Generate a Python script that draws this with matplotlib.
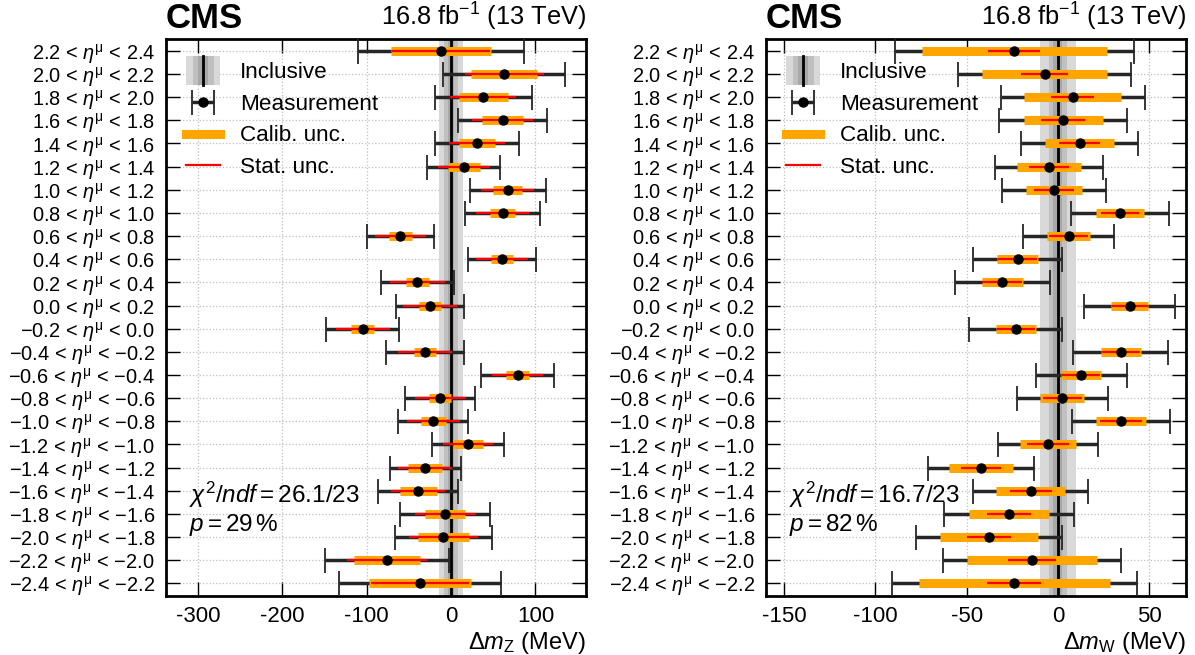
import numpy as np
import matplotlib
matplotlib.use('Agg')
import matplotlib.pyplot as plt
from matplotlib.patches import Rectangle
from matplotlib.lines import Line2D
from matplotlib.legend_handler import HandlerBase

plt.rcParams['font.family'] = ['Liberation Sans', 'DejaVu Sans']
plt.rcParams['mathtext.fontset'] = 'custom'
plt.rcParams['mathtext.rm'] = 'Liberation Sans'
plt.rcParams['mathtext.it'] = 'Liberation Sans:italic'
plt.rcParams['mathtext.bf'] = 'Liberation Sans:bold'
plt.rcParams['axes.unicode_minus'] = False

# eta bin edges, bottom row first
eta_lo = [-2.4, -2.2, -2.0, -1.8, -1.6, -1.4, -1.2, -1.0, -0.8, -0.6, -0.4, -0.2,
          0.0, 0.2, 0.4, 0.6, 0.8, 1.0, 1.2, 1.4, 1.6, 1.8, 2.0, 2.2]
eta_hi = [-2.2, -2.0, -1.8, -1.6, -1.4, -1.2, -1.0, -0.8, -0.6, -0.4, -0.2, 0.0,
          0.2, 0.4, 0.6, 0.8, 1.0, 1.2, 1.4, 1.6, 1.8, 2.0, 2.2, 2.4]

# Z panel (MeV)
z_val = [-37, -76, -9, -7, -39, -30.5, 20, -21, -13, 79, -31, -105,
         -25, -40, 60, -60, 61, 67, 15, 31, 61, 38, 63, -12]
z_tot = [96, 73, 58, 53.5, 47.5, 42, 42.5, 41.5, 41.5, 43, 46, 43,
         40.5, 43.5, 40.5, 39.5, 44, 45, 43, 50, 52.5, 57.5, 72, 98]
z_cal = [60.5, 39, 30, 24, 22, 20, 18, 15, 13, 13.5, 13.5, 14,
         13, 13.5, 13, 13.5, 15, 17, 19, 21.5, 24, 29, 39, 59.5]
z_stat = [58, 47.5, 41, 36, 32, 32, 30, 31, 30, 30, 32.5, 32,
          32, 33, 31, 30, 31, 31, 31, 33, 36.5, 39.5, 47, 58]
z_bands = [14, 8, 4]

# W panel (MeV)
w_val = [-23.8, -14.1, -37.8, -26.8, -14.8, -42.1, -5.4, 34.7, 2.5, 12.8, 34.5, -23,
         39.5, -30.5, -22.1, 5.9, 34.1, -2.2, -5, 12, 3, 8.1, -7.3, -23.9]
w_tot = [67, 49, 40, 35.5, 31.5, 29, 27.5, 27, 25, 25, 26, 25.5,
         25, 26, 24.5, 25, 27, 28.5, 29.5, 32, 35, 39.5, 47.5, 65.5]
w_cal = [52.5, 35.5, 27, 22, 19, 17.5, 15.5, 13.5, 12, 11, 11, 11,
         10.2, 11.2, 11, 11.7, 13.2, 15.3, 17.5, 19, 21.5, 26.8, 34, 50.7]
w_stat = [14.8, 13, 12.2, 12, 11.4, 11, 11.4, 11.4, 10.5, 10.5, 10.5, 10.5,
          10, 10.8, 10.5, 10.5, 10.5, 11, 11, 11.2, 12, 12, 13, 14.2]
w_bands = [10, 5, 2.5]

band_colors = ['#d9d9d9', '#c0c0c0', '#a8a8a8']


class HandlerBand(HandlerBase):
    def create_artists(self, legend, orig_handle, xdescent, ydescent,
                       width, height, fontsize, trans):
        cx = width / 2 - xdescent
        y0 = -ydescent - 0.4 * height
        h = height * 1.8
        arts = []
        for frac, c in zip([1.0, 0.62, 0.3], band_colors):
            arts.append(Rectangle((cx - frac * width / 2, y0), frac * width, h,
                                  facecolor=c, edgecolor='none', transform=trans))
        arts.append(Line2D([cx, cx], [y0, y0 + h], color='k', lw=2, transform=trans))
        return arts


def fmt_eta(v):
    s = '%.1f' % v
    return s.replace('-', '\u2212')


def panel(ax, val, tot, cal, stat, bands, xlim, xticks, xlabel, chi2, pval):
    y = np.arange(len(val))
    val = np.array(val)
    ax.set_xlim(*xlim)
    ax.set_ylim(-0.55, 23.5)
    ax.grid(True, ls=':', color='0.75', lw=0.9)
    ax.set_axisbelow(True)
    for b, c in zip(bands, band_colors):
        ax.axvspan(-b, b, color=c, lw=0, zorder=1)
    ax.axvline(0, color='k', lw=2, zorder=2)
    eb = ax.errorbar(val, y, xerr=tot, fmt='o', color='k', ms=6.5,
                     ecolor='0.15', elinewidth=2.5, capsize=9, capthick=1.3,
                     zorder=3, label='Measurement')
    eb[0].set_zorder(6)
    for cl in eb[1]:
        cl.set_color('0.25')
    ax.hlines(y, val - np.array(cal), val + np.array(cal), color='#ffa500',
              lw=6.5, zorder=4)
    ax.hlines(y, val - np.array(stat), val + np.array(stat), color='#ff0000',
              lw=1.6, zorder=5)
    labels = [fmt_eta(a) + r' < $\eta^{\mathrm{μ}}$ < ' + fmt_eta(b)
              for a, b in zip(eta_lo, eta_hi)]
    ax.set_yticks(y)
    ax.set_yticklabels(labels)
    ax.set_xticks(xticks)
    ax.tick_params(axis='both', direction='in', top=True, right=True,
                   length=10, width=1, labelsize=16)
    ax.tick_params(axis='y', labelsize=14.4, pad=8)
    ax.tick_params(axis='x', pad=7)
    for s in ax.spines.values():
        s.set_linewidth(2)
    ax.set_xlabel(xlabel, fontsize=17, loc='right', labelpad=2)
    ax.text(0.0, 1.008, 'CMS', transform=ax.transAxes, fontsize=25,
            fontweight='bold', ha='left', va='bottom')
    ax.text(1.0, 1.012, r'16.8 fb$^{-1}$ (13 TeV)', transform=ax.transAxes,
            fontsize=18.3, ha='right', va='bottom')
    ax.text(0.055, 0.182, chi2, transform=ax.transAxes, fontsize=17.5, va='center')
    ax.text(0.055, 0.128, pval, transform=ax.transAxes, fontsize=17.5, va='center')

    h_incl = Rectangle((0, 0), 1, 1)
    h_cal = Line2D([], [], color='#ffa500', lw=6.5)
    h_stat = Line2D([], [], color='#ff0000', lw=1.6)
    ax.legend([h_incl, eb, h_cal, h_stat],
              ['Inclusive', 'Measurement', 'Calib. unc.', 'Stat. unc.'],
              handler_map={Rectangle: HandlerBand()}, loc='upper left',
              bbox_to_anchor=(0.0, 0.995), frameon=False, fontsize=16.2,
              handlelength=1.5, labelspacing=0.47, handletextpad=0.9)


fig = plt.figure(figsize=(11.95, 6.55), dpi=100)
ax1 = fig.add_axes([0.1389, 0.090, 0.3515, 0.850])
ax2 = fig.add_axes([0.6410, 0.090, 0.3515, 0.850])

panel(ax1, z_val, z_tot, z_cal, z_stat, z_bands, (-338, 160),
      [-300, -200, -100, 0, 100], r'$\Delta m_{\mathrm{Z}}$ (MeV)',
      r'$\chi^2/ndf = 26.1/23$', r'$p = 29\,\%$')
panel(ax2, w_val, w_tot, w_cal, w_stat, w_bands, (-160, 70.3),
      [-150, -100, -50, 0, 50], r'$\Delta m_{\mathrm{W}}$ (MeV)',
      r'$\chi^2/ndf = 16.7/23$', r'$p = 82\,\%$')

fig.savefig('out.png', dpi=100)
